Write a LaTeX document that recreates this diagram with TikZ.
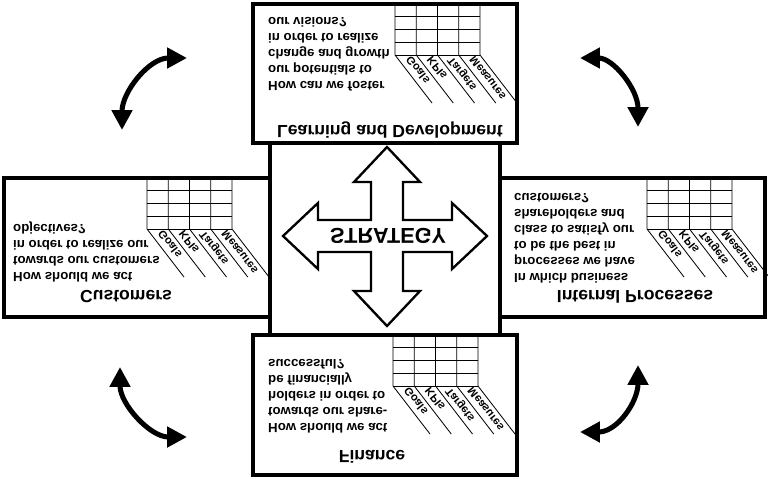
\documentclass[tikz,border=0pt]{standalone}
\usepackage{fontspec}
\setmainfont{Liberation Sans}
\usepackage{tikz}
\usetikzlibrary{arrows.meta}

% one small KPI table: name, left x, top y
\newcommand{\kpitable}[3]{%
	\foreach \k in {0,...,4}
		\draw[gridline] (#2+21.25*\k,#3) -- (#2+21.25*\k,#3+51) -- ++(37,48);
	\foreach \k in {1,...,4}
		\draw[gridline] (#2,#3+12.75*\k) -- (#2+85,#3+12.75*\k);
	\foreach \lab [count=\k from 0] in {Goals,KPIs,Targets,Measures}
		\node[kpi] (#1-\k) at (#2+21.25*\k+13,#3+54) {\lab};
}

\begin{document}
\begin{tikzpicture}[x=0.03cm,y=-0.03cm,
		box/.style={draw,line width=2.6pt,fill=white},
		gridline/.style={line width=0.7pt},
		upsidedown/.style={yscale=-1},
		title/.style={upsidedown,inner sep=0pt,font=\bfseries\fontsize{15}{17}\selectfont},
		question/.style={upsidedown,align=left,anchor=west,inner sep=0pt,font=\bfseries\fontsize{11.3}{13.7}\selectfont},
		kpi/.style={rotate=-52,yscale=-1,anchor=west,inner sep=0pt,font=\bfseries\fontsize{9.5}{10}\selectfont},
		swing/.style={line width=4.3pt,{Triangle[length=17pt,width=17pt]}-{Triangle[length=17pt,width=17pt]}}]
	\useasboundingbox (0,0) rectangle (768,478);
	\fill[white] (0,0) rectangle (768,478);
			% perspectives
			\draw[box] (253,4) rectangle (517,143);
			\draw[box] (253,335) rectangle (517,475);
			\draw[box] (4,178) rectangle (270,317);
			\draw[box] (500,178) rectangle (765,317);
			\draw[box] (270,143) rectangle (500,335);
			\kpitable{learn}{395}{4}
			\kpitable{cust}{147}{178}
			\kpitable{proc}{647}{178}
			\kpitable{fin}{393}{335}
			\node[title] (learnTitle) at (390,130) {Learning and Development};
			\node[title] (custTitle) at (126,297) {Customers};
			\node[title] (procTitle) at (635,297) {Internal Processes};
			\node[title] (finTitle) at (372,457) {Finance};
			\node[question] (learnText) at (268,54.5) {How can we foster\\our potentials to\\change and growth\\in order to realize\\our visions?};
			\node[question] (custText) at (13,251.5) {How should we act\\towards our customers\\in order to realize our\\objectives?};
			\node[question] (procText) at (514,238.5) {In which business\\processes we have\\to be the best in\\class to satisfy our\\shareholders and\\customers?};
			\node[question] (finText) at (268,396) {How should we act\\towards our share-\\holders in order to\\be financially\\successful?};
			% strategy cross
			\draw[line width=2pt,fill=white] (387,147) -- (420,182) -- (403,182) -- (403,220) -- (452,220) -- (452,203) -- (487,236)
				-- (452,269) -- (452,252) -- (403,252) -- (403,291) -- (420,291) -- (387,326) -- (354,291) -- (371,291)
				-- (371,252) -- (318,252) -- (318,269) -- (283,236) -- (318,203) -- (318,220) -- (371,220) -- (371,182)
				-- (354,182) -- cycle;
			\node[upsidedown,inner sep=0pt,font=\bfseries\fontsize{18.4}{20}\selectfont] (strategy) at (388,236) {STRATEGY};
			% cycle arrows
			\draw[swing] (187,58) .. controls (149,58) and (122,92) .. (122,130);
			\draw[swing] (580,58) .. controls (613,58) and (638,89) .. (638,127);
			\draw[swing] (120,367) .. controls (120,404) and (150,437) .. (187,437);
			\draw[swing] (638,365) .. controls (638,402) and (617,432) .. (580,432);
\end{tikzpicture}
\end{document}
